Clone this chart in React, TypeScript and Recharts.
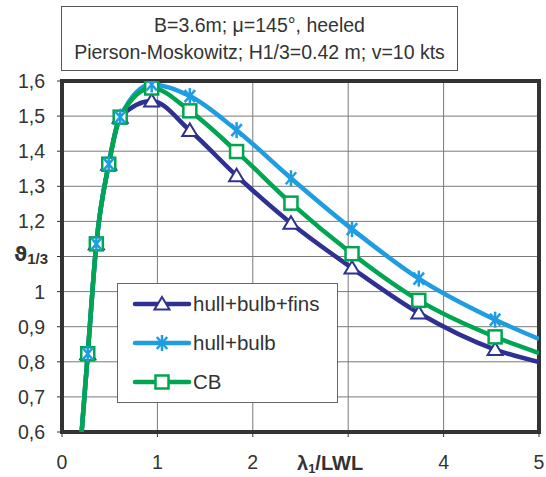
import React from "react";
import {
  ComposedChart,
  Line,
  Scatter,
  XAxis,
  YAxis,
  CartesianGrid,
  ReferenceArea,
} from "recharts";

// wave length ratio where the markers sit
const lambdaRatio = [0.27, 0.36, 0.49, 0.61, 0.94, 1.34, 1.83, 2.4, 3.04, 3.74, 4.54];
const hullBulbFins = [0.823, 1.136, 1.363, 1.497, 1.543, 1.459, 1.33, 1.195, 1.067, 0.939, 0.835];
const hullBulb = [0.823, 1.136, 1.363, 1.497, 1.59, 1.557, 1.46, 1.323, 1.178, 1.037, 0.92];
const cbValues = [0.823, 1.136, 1.363, 1.497, 1.58, 1.515, 1.399, 1.252, 1.108, 0.975, 0.871];

// where the curves leave the plot
const curveStart = { x: 0.206, y: 0.6 };
const curveEndX = 5;
const curveEnd = { fins: 0.799, bulb: 0.865, cb: 0.825 };

const xTicks = [0, 1, 2, 3, 4, 5];
const yTicks = [0.6, 0.7, 0.8, 0.9, 1, 1.1, 1.2, 1.3, 1.4, 1.5, 1.6];

const NAVY = "#2E3192";
const SKY = "#1E9DE0";
const GREEN = "#00A551";
const FONT = "'Liberation Sans', Arial, sans-serif";

const markers = (ys: number[]) => lambdaRatio.map((x, i) => ({ x, y: ys[i] }));
const curve = (ys: number[], end: number) => [
  curveStart,
  ...markers(ys),
  { x: curveEndX, y: end },
];

const Triangle = (p: any) => (
  <path
    d={`M${p.cx},${p.cy - 7} L${p.cx + 7.5},${p.cy + 5.5} L${p.cx - 7.5},${p.cy + 5.5} Z`}
    fill="#fff"
    stroke={NAVY}
    strokeWidth={2}
  />
);

const Star = (p: any) => {
  const r = 8;
  return (
    <g stroke={SKY} strokeWidth={2.5}>
      <line x1={p.cx} y1={p.cy - r} x2={p.cx} y2={p.cy + r} />
      <line x1={p.cx - r * 0.65} y1={p.cy - r * 0.75} x2={p.cx + r * 0.65} y2={p.cy + r * 0.75} />
      <line x1={p.cx - r * 0.65} y1={p.cy + r * 0.75} x2={p.cx + r * 0.65} y2={p.cy - r * 0.75} />
    </g>
  );
};

const Square = (p: any) => (
  <rect x={p.cx - 6.5} y={p.cy - 6.5} width={13} height={13} fill="#fff" stroke={GREEN} strokeWidth={2.5} />
);

const legendItems = [
  { name: "hull+bulb+fins", color: NAVY, Icon: Triangle },
  { name: "hull+bulb", color: SKY, Icon: Star },
  { name: "CB", color: GREEN, Icon: Square },
];

const LegendBox = () => (
  <div
    style={{
      position: "absolute",
      left: 117,
      top: 283,
      width: 221,
      height: 120,
      border: "1px solid #666",
      background: "#fff",
      boxSizing: "border-box",
    }}
  >
    {legendItems.map((it) => (
      <div key={it.name} style={{ display: "flex", alignItems: "center", height: 39 }}>
        <svg width={60} height={20} style={{ marginLeft: 14, flex: "none" }}>
          <line x1={3} y1={10} x2={57} y2={10} stroke={it.color} strokeWidth={4.5} strokeLinecap="round" />
          <it.Icon cx={30} cy={10} />
        </svg>
        <span style={{ fontFamily: FONT, fontSize: 20.5, color: "#333", marginLeft: 1 }}>{it.name}</span>
      </div>
    ))}
  </div>
);

const fmt = (v: number) => (v === 1 ? "1" : v.toFixed(1).replace(".", ","));

export default function App() {
  return (
    <div style={{ position: "absolute", left: 0, top: 0, width: 546, height: 477, background: "#fff" }}>
      <div
        style={{
          position: "absolute",
          left: 61,
          top: 6,
          width: 397,
          height: 65,
          border: "1px solid #555",
          boxSizing: "border-box",
          fontFamily: FONT,
          fontSize: 19.5,
          color: "#333",
          textAlign: "center",
          lineHeight: "27px",
          paddingTop: 5,
        }}
      >
        <div>B=3.6m; μ=145°, heeled</div>
        <div>Pierson-Moskowitz; H1/3=0.42 m; v=10 kts</div>
      </div>

      <ComposedChart
        width={546}
        height={477}
        margin={{ top: 81, right: 7, bottom: 0, left: 0 }}
        style={{ position: "absolute", left: 0, top: 0 }}
      >
        <CartesianGrid stroke="#7a7a7a" strokeWidth={1} />
        <XAxis
          type="number"
          dataKey="x"
          domain={[0, 5]}
          ticks={xTicks}
          interval={0}
          allowDataOverflow
          height={45}
          axisLine={false}
          tickLine={{ stroke: "#333" }}
          tickSize={5}
          tickMargin={18}
          tickFormatter={(v: number) => (v === 3 ? "" : String(v))}
          tick={{ fontFamily: FONT, fontSize: 19.5, fill: "#333" }}
        />
        <YAxis
          type="number"
          dataKey="y"
          domain={[0.6, 1.6]}
          ticks={yTicks}
          interval={0}
          allowDataOverflow
          width={62}
          axisLine={false}
          tickLine={{ stroke: "#333" }}
          tickSize={5}
          tickMargin={12}
          tickFormatter={(v: number) => (v === 1.1 ? "" : fmt(v))}
          tick={{ fontFamily: FONT, fontSize: 19.5, fill: "#333" }}
        />
        <Line data={curve(hullBulbFins, curveEnd.fins)} dataKey="y" type="monotone" stroke={NAVY} strokeWidth={4.5} dot={false} isAnimationActive={false} legendType="none" />
        <Line data={curve(hullBulb, curveEnd.bulb)} dataKey="y" type="monotone" stroke={SKY} strokeWidth={4.5} dot={false} isAnimationActive={false} legendType="none" />
        <Line data={curve(cbValues, curveEnd.cb)} dataKey="y" type="monotone" stroke={GREEN} strokeWidth={4.5} dot={false} isAnimationActive={false} legendType="none" />
        <Scatter data={markers(hullBulbFins)} dataKey="y" shape={Triangle} isAnimationActive={false} legendType="none" />
        <Scatter data={markers(cbValues)} dataKey="y" shape={Square} isAnimationActive={false} legendType="none" />
        <Scatter data={markers(hullBulb)} dataKey="y" shape={Star} isAnimationActive={false} legendType="none" />
        <ReferenceArea x1={0} x2={5} y1={0.6} y2={1.6} fill="none" stroke="#333" strokeWidth={4} ifOverflow="visible" />
      </ComposedChart>

      <LegendBox />

      <div
        style={{
          position: "absolute",
          left: 14,
          top: 241,
          fontFamily: "'DejaVu Sans', sans-serif",
          fontWeight: "bold",
          fontSize: 20,
          color: "#333",
          lineHeight: "26px",
        }}
      >
        ϑ<sub style={{ fontFamily: FONT, fontSize: 15, verticalAlign: "-3px" }}>1/3</sub>
      </div>
      <div
        style={{
          position: "absolute",
          left: 297,
          top: 452,
          fontFamily: FONT,
          fontWeight: "bold",
          fontSize: 20,
          color: "#333",
        }}
      >
        λ<sub style={{ fontSize: 13, verticalAlign: "-3px" }}>1</sub>/LWL
      </div>
    </div>
  );
}
